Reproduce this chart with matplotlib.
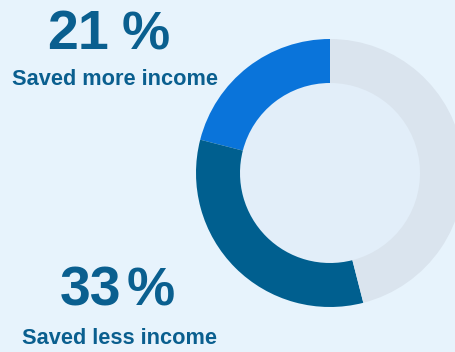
import matplotlib.pyplot as plt

# Share of respondents by change in savings
labels = ['Saved more income', 'Saved less income', 'Other']
shares = [21, 33, 46]
colors = ['#0a74da', '#005f8f', '#dae4ee']

W, H = 455, 352
fig = plt.figure(figsize=(W / 100, H / 100), dpi=100)
fig.patch.set_facecolor('#e7f3fc')

ax = fig.add_axes([0, 0, 1, 1])
ax.set_aspect('equal')
ax.axis('off')

# Donut, partly running off the right edge
cx, cy = 330, H - 173
ax.pie(shares, colors=colors, startangle=90, counterclock=True,
       center=(cx, cy), radius=134,
       wedgeprops=dict(width=44, edgecolor='none'))
ax.add_patch(plt.Circle((cx, cy), 90, color='#e2eef9', zorder=0))
ax.set_xlim(0, W)
ax.set_ylim(0, H)

text_color = '#0a5f8f'
font = 'Liberation Sans'


def big_percent(value, x_num_end, x_pct, baseline):
    ax.text(x_num_end, H - baseline, str(value), ha='right', va='baseline',
            fontsize=40, fontweight='bold', color=text_color, family=font)
    ax.text(x_pct, H - baseline, '%', ha='left', va='baseline',
            fontsize=39, fontweight='bold', color=text_color, family=font)


big_percent(shares[0], 109, 122, 49)
ax.text(115, H - 85, labels[0], ha='center', va='baseline',
        fontsize=15.7, fontweight='bold', color=text_color, family=font)
big_percent(shares[1], 121, 127, 305)
ax.text(119.5, H - 344, labels[1], ha='center', va='baseline',
        fontsize=15.7, fontweight='bold', color=text_color, family=font)

fig.savefig('out.png', dpi=100, facecolor=fig.get_facecolor())
